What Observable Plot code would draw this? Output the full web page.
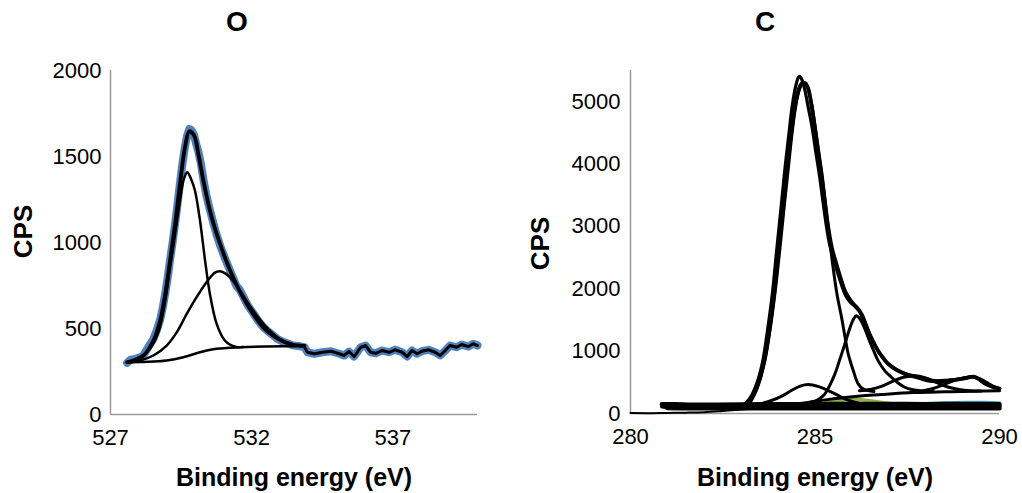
<!DOCTYPE html>
<html>
<head>
<meta charset="utf-8">
<script src="https://cdn.jsdelivr.net/npm/d3@7"></script>
<script src="https://cdn.jsdelivr.net/npm/@observablehq/plot@0.6"></script>
<style>
  html, body { margin: 0; padding: 0; background: #fff; }
  #wrap { display: flex; width: 1022px; }
  .panel { width: 511px; }
  .title { position: relative; height: 48px; }
  .title span { position: absolute; top: 8px; transform: translateX(-50%);
    font: bold 28px "Liberation Sans", Arial, sans-serif; line-height: 28px; }
</style>
</head>
<body>
<div id="wrap">
  <div class="panel" id="pO"><div class="title"><span style="left:237px">O</span></div></div>
  <div class="panel" id="pC"><div class="title"><span style="left:254px">C</span></div></div>
</div>
<script>
// ---------- O 1s panel data: [binding energy (eV), CPS] ----------
const oTicksX = [527, 532, 537];
const oTicksY = [0, 500, 1000, 1500, 2000];

const oRaw = [[527.59,300],[527.7,318],[527.85,322],[528.0,330],[528.17,345],[528.35,395],[528.52,440],[528.64,490],[528.76,552],[528.85,620],[528.94,705],[529.03,800],[529.11,900],[529.2,1000],[529.29,1112],[529.38,1230],[529.46,1345],[529.55,1460],[529.64,1560],[529.72,1625],[529.79,1660],[529.86,1655],[529.96,1625],[530.04,1570],[530.11,1530],[530.2,1460],[530.29,1368],[530.4,1270],[530.52,1190],[530.64,1115],[530.76,1045],[530.9,975],[531.05,910],[531.2,850],[531.34,795],[531.46,748],[531.58,725],[531.69,690],[531.87,632],[532.05,590],[532.22,548],[532.4,510],[532.55,488],[532.75,462],[532.92,438],[533.1,424],[533.3,412],[533.45,402],[533.65,398],[533.87,392],[533.98,362],[534.22,353],[534.51,362],[534.81,368],[535.10,353],[535.27,343],[535.45,366],[535.63,337],[535.86,391],[536.04,401],[536.21,362],[536.39,356],[536.62,372],[536.86,362],[537.09,376],[537.33,362],[537.51,337],[537.68,372],[537.86,353],[538.03,368],[538.27,376],[538.50,362],[538.68,343],[538.86,372],[539.03,401],[539.26,391],[539.44,407],[539.68,395],[539.85,411],[540.0,401]];

const oEnvelope = [[527.59,304],[527.7,308],[528.17,343],[528.52,430],[528.76,547],[528.94,702],[529.11,895],[529.29,1109],[529.46,1341],[529.64,1554],[529.79,1647],[529.96,1622],[530.11,1516],[530.29,1360],[530.52,1186],[530.76,1050],[531.05,915],[531.34,798],[531.69,682],[532.05,585],[532.4,508],[532.75,459],[533.1,426],[533.45,407],[533.87,399]];

const oPeak1 = [[527.59,304],[527.7,306],[528.06,330],[528.41,385],[528.70,480],[528.94,663],[529.11,856],[529.29,1050],[529.46,1244],[529.6,1370],[529.72,1409],[529.85,1370],[529.99,1302],[530.17,1128],[530.35,895],[530.52,702],[530.76,527],[531.05,430],[531.25,405],[531.46,393],[531.7,392]];

const oPeak2 = [[527.7,304],[528.06,314],[528.52,343],[528.99,401],[529.35,479],[529.70,585],[530.05,682],[530.40,769],[530.70,825],[530.87,833],[531.05,822],[531.23,798],[531.58,721],[532.05,605],[532.52,508],[532.99,440],[533.45,405],[533.87,396]];

const oBackground = [[527.59,304],[528.3,306],[528.99,314],[529.58,333],[530.17,362],[530.76,382],[531.58,391],[532.52,395],[533.87,397]];

// ---------- C 1s panel data ----------
const cTicksX = [280, 285, 290];
const cTicksY = [0, 1000, 2000, 3000, 4000, 5000];

const cEnvA = [[280.85,135],[281.3,128],[281.8,125],[282.3,122],[282.8,125],[283.05,140],[283.25,260],[283.42,480],[283.58,830],[283.7,1280],[283.84,1900],[283.96,2610],[284.08,3300],[284.19,3950],[284.3,4520],[284.38,4920],[284.47,5230],[284.55,5390],[284.59,5408],[284.64,5360],[284.72,5200],[284.82,4900],[284.93,4560],[285.02,4200],[285.12,3820],[285.22,3380],[285.31,3000],[285.4,2700],[285.5,2480],[285.6,2280],[285.72,2060],[285.84,1880],[285.96,1780],[286.08,1720],[286.2,1640],[286.3,1520],[286.4,1390],[286.52,1220],[286.65,1060],[286.8,920],[286.95,820],[287.12,740],[287.3,675],[287.5,630],[287.7,600],[287.88,570],[288.07,540],[288.3,525],[288.52,530],[288.75,545],[288.97,560],[289.15,580],[289.3,585],[289.45,545],[289.6,480],[289.8,435],[290.0,400]];

const cEnvB = [[280.85,110],[281.3,105],[281.8,108],[282.3,110],[282.8,112],[283.1,130],[283.3,270],[283.47,500],[283.63,860],[283.76,1320],[283.9,1950],[284.02,2650],[284.14,3340],[284.25,3950],[284.36,4520],[284.45,4900],[284.55,5180],[284.64,5290],[284.72,5301],[284.8,5240],[284.9,4960],[285.0,4581],[285.09,4200],[285.18,3835],[285.27,3400],[285.36,2981],[285.46,2650],[285.58,2395],[285.7,2160],[285.81,1968],[285.92,1850],[286.04,1755],[286.15,1690],[286.26,1595],[286.35,1470],[286.44,1328],[286.57,1160],[286.71,1008],[286.85,890],[286.98,795],[287.15,720],[287.34,661],[287.52,615],[287.7,590],[287.9,555],[288.07,528],[288.3,515],[288.52,520],[288.75,535],[288.97,555],[289.15,575],[289.29,590],[289.45,550],[289.6,485],[289.8,430],[290.0,395]];

const cPeakCC = [[283.0,125],[283.2,150],[283.35,290],[283.5,520],[283.65,870],[283.78,1330],[283.92,1950],[284.05,2650],[284.17,3340],[284.28,3950],[284.38,4500],[284.47,4900],[284.57,5180],[284.66,5290],[284.73,5290],[284.82,5200],[284.92,4930],[285.01,4560],[285.1,4180],[285.19,3800],[285.28,3360],[285.37,2930],[285.49,2341],[285.6,1900],[285.72,1541],[285.81,1240],[285.9,955],[286.03,700],[286.17,475],[286.3,395],[286.44,368],[286.6,352]];

const cPeakCO = [[284.5,150],[284.72,158],[284.95,185],[285.12,235],[285.27,315],[285.4,450],[285.54,635],[285.68,880],[285.81,1115],[285.95,1380],[286.05,1520],[286.12,1568],[286.2,1530],[286.32,1400],[286.44,1221],[286.58,1020],[286.71,848],[286.9,680],[287.07,581],[287.25,490],[287.43,421],[287.65,380],[287.89,362],[288.2,355]];

const cPeakSmall = [[283.0,122],[283.28,128],[283.55,160],[283.82,208],[284.1,280],[284.36,368],[284.6,440],[284.82,464],[285.1,430],[285.36,368],[285.6,300],[285.81,235],[286.05,185],[286.26,155],[286.5,140]];

const cPeakCdO = [[286.2,365],[286.5,385],[286.8,435],[287.1,515],[287.4,580],[287.7,605],[288.0,570],[288.3,495],[288.6,425],[288.9,385],[289.2,365],[289.5,360]];

const cPeakOCO = [[287.6,345],[287.9,362],[288.2,400],[288.5,465],[288.8,535],[289.05,575],[289.29,590],[289.5,548],[289.7,480],[289.85,430],[290.0,400]];

const cBackground = [[283.0,120],[283.5,125],[284.0,135],[284.6,160],[285.0,195],[285.5,235],[285.87,261],[286.3,285],[286.8,305],[287.67,335],[288.5,348],[289.3,357],[290.0,363]];

const cGreen = [[285.0,140],[285.4,180],[285.8,215],[286.1,225],[286.5,205],[286.9,170],[287.3,145],[287.7,135]];
const cTeal = [[287.6,150],[288.1,160],[288.6,172],[289.1,178],[289.6,175],[290.0,168]];

const cBand1 = [[280.85,150],[281.2,148],[281.7,140],[282.3,142],[283.0,145],[284.0,148],[285.0,150],[286.0,152],[287.0,152],[288.0,150],[289.0,152],[290.0,150]];
const cBand2 = [[280.9,118],[281.5,112],[282.2,115],[283.0,116],[284.0,115],[285.0,114],[286.0,116],[287.0,115],[288.0,114],[289.0,116],[290.0,115]];
const cBand3 = [[281.0,88],[281.6,84],[282.4,86],[283.2,85],[284.0,84],[285.0,86],[286.0,85],[287.0,84],[288.0,86],[289.0,85],[290.0,86]];
const cThin = [[280.0,8],[280.5,6],[281.0,10],[281.5,14],[282.0,22],[282.5,42],[283.0,65],[283.5,85],[284.0,95]];

// ---------- shared styling ----------
const FONT = '"Liberation Sans", Arial, sans-serif';
const AXIS = "#9a9a9a";
const BLUE = "#4f81bd";
const XY = {x: d => d[0], y: d => d[1]};
const fmt = d3.format("d");
const line = (data, w, extra = {}) => Plot.line(data, {...XY, stroke: "#000", strokeWidth: w, curve: "catmull-rom", strokeLinejoin: "round", strokeLinecap: "round", ...extra});

function frameText(marks, dxCPS, dyCPS, dyX) {
  marks.push(Plot.text(["CPS"], {frameAnchor: "left", rotate: -90, dx: dxCPS, dy: dyCPS,
    textAnchor: "middle", lineAnchor: "middle", fontWeight: "bold", fontSize: 26, fill: "#000", fontFamily: FONT}));
  marks.push(Plot.text(["Binding energy (eV)"], {frameAnchor: "bottom", dy: dyX,
    textAnchor: "middle", lineAnchor: "bottom", fontWeight: "bold", fontSize: 25, fill: "#000", fontFamily: FONT}));
  return marks;
}

const oMarks = [
  Plot.axisX(oTicksX, {tickSize: 0, tickPadding: 15, label: null, fontSize: 22, tickFormat: fmt}),
  Plot.axisY(oTicksY, {tickSize: 0, tickPadding: 9, label: null, fontSize: 22, tickFormat: fmt}),
  Plot.ruleX([527], {stroke: AXIS, strokeWidth: 1.5}),
  Plot.ruleY([0], {stroke: AXIS, strokeWidth: 1.5}),
  line(oRaw, 8, {stroke: BLUE, curve: "linear"}),
  line(oRaw.filter(d => d[0] >= 533.85), 3, {curve: "linear"}),
  line(oBackground, 2.5),
  line(oPeak2, 2.5),
  line(oPeak1, 2.5),
  line(oEnvelope, 3.8)
];
frameText(oMarks, -87, -11, 71);

const plotO = Plot.plot({
  width: 511, height: 443,
  marginLeft: 110, marginRight: 34, marginTop: 22, marginBottom: 77,
  x: {domain: [527, 540]},
  y: {domain: [0, 2000]},
  style: {fontFamily: FONT, fontSize: "22px", color: "#000", background: "#fff", overflow: "visible"},
  marks: oMarks
});
document.getElementById("pO").appendChild(plotO);

const cMarks = [
  Plot.axisX(cTicksX, {tickSize: 0, tickPadding: 15, label: null, fontSize: 22, tickFormat: fmt}),
  Plot.axisY(cTicksY, {tickSize: 0, tickPadding: 10, label: null, fontSize: 22, tickFormat: fmt}),
  Plot.ruleX([280], {stroke: AXIS, strokeWidth: 1.5}),
  Plot.ruleY([0], {stroke: AXIS, strokeWidth: 1.5}),
  line(cThin, 2),
  line(cGreen, 3.5, {stroke: "#8fb04a"}),
  line(cTeal, 3.5, {stroke: "#4bacc6"}),
  line(cBand1, 4.5),
  line(cBand2, 4.5),
  line(cBand3, 4.5),
  line(cBackground, 3),
  line(cPeakSmall, 3),
  line(cPeakCO, 3),
  line(cPeakCdO, 3),
  line(cPeakOCO, 3),
  line(cPeakCC, 3),
  line(cEnvA, 3.2),
  line(cEnvB, 3.8)
];
frameText(cMarks, -90, 1.5, 72);

const plotC = Plot.plot({
  width: 511, height: 443,
  marginLeft: 119, marginRight: 23, marginTop: 22, marginBottom: 78,
  x: {domain: [280, 290]},
  y: {domain: [0, 5500]},
  style: {fontFamily: FONT, fontSize: "22px", color: "#000", background: "#fff", overflow: "visible"},
  marks: cMarks
});
document.getElementById("pC").appendChild(plotC);
</script>
</body>
</html>
